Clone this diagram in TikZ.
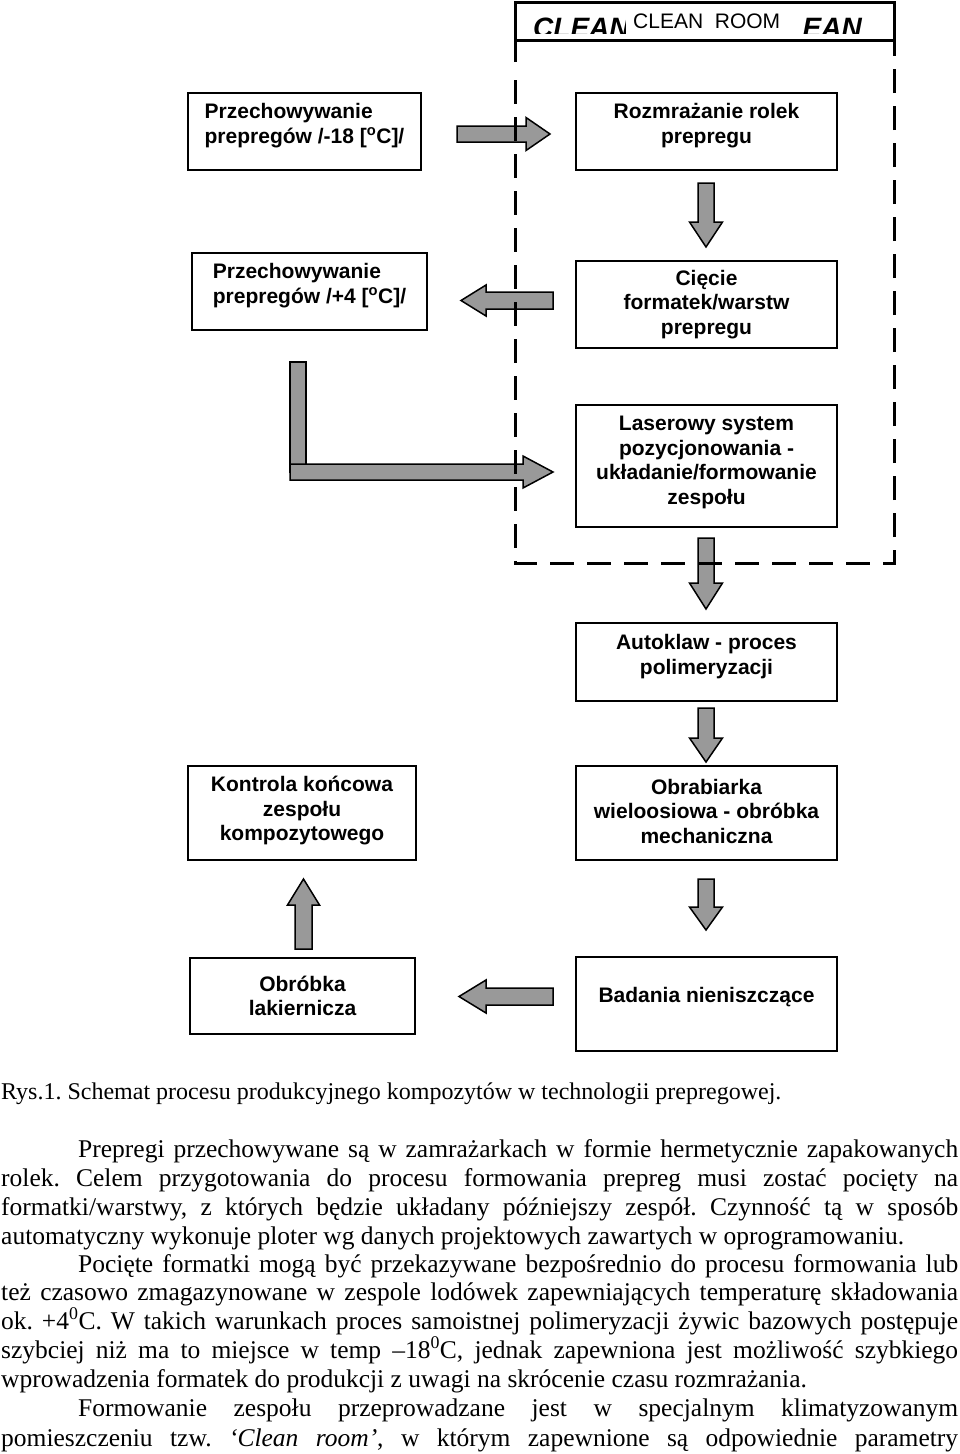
\documentclass[tikz,border=0pt]{standalone}
\usepackage{fontspec}
\setmainfont{Liberation Serif}
\newfontfamily\boxfont{Liberation Sans}
\definecolor{arrowgrey}{RGB}{153,153,153}
% #1 name, #2 start, #3 rotation, #4 length, #5 head length, #6 shaft half width, #7 head half width
\newcommand\blockarr[7]{%
  \coordinate (#1) at #2;
  \begin{scope}[shift={(#1)}, rotate=#3]
    \draw[blockarrow] (0,-#6) -- ({#4-#5},-#6) -- ({#4-#5},-#7) -- (#4,0) -- ({#4-#5},#7) -- ({#4-#5},#6) -- (0,#6) -- cycle;
  \end{scope}}
\frenchspacing
\begin{document}
\begin{tikzpicture}[x=1pt,y=-1pt,
  box/.style={draw=black, line width=2pt, fill=white, inner sep=0pt},
  boxtext/.style={font=\boxfont\bfseries\fontsize{21}{24.5}\selectfont, align=center, inner sep=0pt},
  blockarrow/.style={draw=black, line width=1.5pt, fill=arrowgrey, line join=miter},
  roomline/.style={draw=black, line width=3pt},
  roomdash/.style={draw=black, line width=3pt, dash pattern=on 24pt off 13pt},
  bodyline/.style={anchor=base west, inner sep=0pt, font=\fontsize{25.5}{29}\selectfont},
]
\useasboundingbox (0,0) rectangle (960,1454);

% ---------- boxes ----------
\node[box, minimum width=233pt, minimum height=77pt,
  label={[boxtext, align=left, yshift=6pt]center:{Przechowywanie\\prepregów /-18 [\textsuperscript{o}C]/}}] (b1) at (304.5,131.5) {};
\node[box, minimum width=261pt, minimum height=77pt,
  label={[boxtext, yshift=6pt]center:{Rozmrażanie rolek\\prepregu}}] (b2) at (706.5,131.5) {};
\node[box, minimum width=235pt, minimum height=77pt,
  label={[boxtext, align=left, yshift=6pt]center:{Przechowywanie\\prepregów /+4 [\textsuperscript{o}C]/}}] (b3) at (309.5,291.5) {};
\node[box, minimum width=261pt, minimum height=87pt,
  label={[boxtext]center:{Cięcie\\formatek/warstw\\prepregu}}] (b4) at (706.5,304.5) {};
\node[box, minimum width=261pt, minimum height=122pt,
  label={[boxtext, yshift=3.5pt]center:{Laserowy system\\pozycjonowania -\\układanie/formowanie\\zespołu}}] (b5) at (706.5,466) {};
\node[box, minimum width=261pt, minimum height=78pt,
  label={[boxtext, yshift=5.5pt]center:{Autoklaw - proces\\polimeryzacji}}] (b6) at (706.5,662) {};
\node[box, minimum width=261pt, minimum height=94pt,
  label={[boxtext, yshift=2pt]center:{Obrabiarka\\wieloosiowa - obróbka\\mechaniczna}}] (b7) at (706.5,813) {};
\node[box, minimum width=228pt, minimum height=94pt,
  label={[boxtext, yshift=2pt]center:{Kontrola końcowa\\zespołu\\kompozytowego}}] (b8) at (302,813) {};
\node[box, minimum width=225pt, minimum height=76pt,
  label={[boxtext]center:{Obróbka\\lakiernicza}}] (b9) at (302.5,996) {};
\node[box, minimum width=261pt, minimum height=94pt,
  label={[boxtext, yshift=7pt]center:{Badania nieniszczące}}] (b10) at (706.5,1004) {};

% ---------- block arrows ----------
\blockarr{a1}{(457,134)}{0}{93}{24}{8}{16.5}
\blockarr{a2}{(706,183)}{-90}{64}{25}{8}{16.5}
\blockarr{a3}{(553,300.5)}{180}{92}{25}{8.5}{15.5}
\draw[blockarrow] (290,362) rectangle (306,472);
\blockarr{a4}{(290,472)}{0}{263}{30}{8}{16}
\blockarr{a5}{(706,538)}{-90}{71}{26}{8}{16.5}
\blockarr{a6}{(706,708)}{-90}{54}{24}{8}{16.5}
\blockarr{a7}{(706,879)}{-90}{51}{23}{8}{16.5}
\blockarr{a8}{(553,996.5)}{180}{94}{27}{8.5}{16.5}
\blockarr{a9}{(303.5,949)}{90}{70}{26}{8.5}{16}

% ---------- clean room frame ----------
\begin{scope}
  \clip (517,4) rectangle (892,33);
  \node[anchor=base west, inner sep=0pt, font=\boxfont\bfseries\itshape\fontsize{28}{28}\selectfont] (bigl) at (533,37) {CLEAN};
  \node[anchor=base east, inner sep=0pt, font=\boxfont\bfseries\itshape\fontsize{28}{28}\selectfont] (bigr) at (862,37) {EAN};
\end{scope}
\fill[white] (626,5) rectangle (800,37);
\node[anchor=base west, inner sep=0pt, font=\boxfont\fontsize{21}{21}\selectfont] (cleanroom) at (633,28) {CLEAN\ \ ROOM};
\draw[roomline] (515,62) -- (515,2) -- (894,2) -- (894,56);
\draw[roomline] (515,40) -- (894,40);
\draw[roomdash] (515,80) -- (515,563) -- (894,563) -- (894,65);

% ---------- text ----------
\node[bodyline, font=\fontsize{24}{29}\selectfont] (t1) at (1,1099) {Rys.1. Schemat procesu produkcyjnego kompozytów w technologii prepregowej.};
\node[bodyline] (t2) at (78,1157) {\makebox[880pt][s]{Prepregi przechowywane są w zamrażarkach w formie hermetycznie zapakowanych}};
\node[bodyline] (t3) at (1,1186) {\makebox[957pt][s]{rolek. Celem przygotowania do procesu formowania prepreg musi zostać pocięty na}};
\node[bodyline] (t4) at (1,1215) {\makebox[957pt][s]{formatki/warstwy, z których będzie układany późniejszy zespół. Czynność tą w sposób}};
\node[bodyline] (t5) at (1,1244) {automatyczny wykonuje ploter wg danych projektowych zawartych w oprogramowaniu.};
\node[bodyline] (t6) at (78,1272) {\makebox[880pt][s]{Pocięte formatki mogą być przekazywane bezpośrednio do procesu formowania lub}};
\node[bodyline] (t7) at (1,1300) {\makebox[957pt][s]{też czasowo zmagazynowane w zespole lodówek zapewniających temperaturę składowania}};
\node[bodyline] (t8) at (1,1329) {\makebox[957pt][s]{ok. +4\textsuperscript{0}C. W takich warunkach proces samoistnej polimeryzacji żywic bazowych postępuje}};
\node[bodyline] (t9) at (1,1358) {\makebox[957pt][s]{szybciej niż ma to miejsce w temp –18\textsuperscript{0}C, jednak zapewniona jest możliwość szybkiego}};
\node[bodyline] (t10) at (1,1387) {wprowadzenia formatek do produkcji z uwagi na skrócenie czasu rozmrażania.};
\node[bodyline] (t11) at (78,1416) {\makebox[880pt][s]{Formowanie zespołu przeprowadzane jest w specjalnym klimatyzowanym}};
\node[bodyline] (t12) at (1,1446) {\makebox[957pt][s]{pomieszczeniu tzw. \textit{‘Clean room’}, w którym zapewnione są odpowiednie parametry}};
\end{tikzpicture}
\end{document}
